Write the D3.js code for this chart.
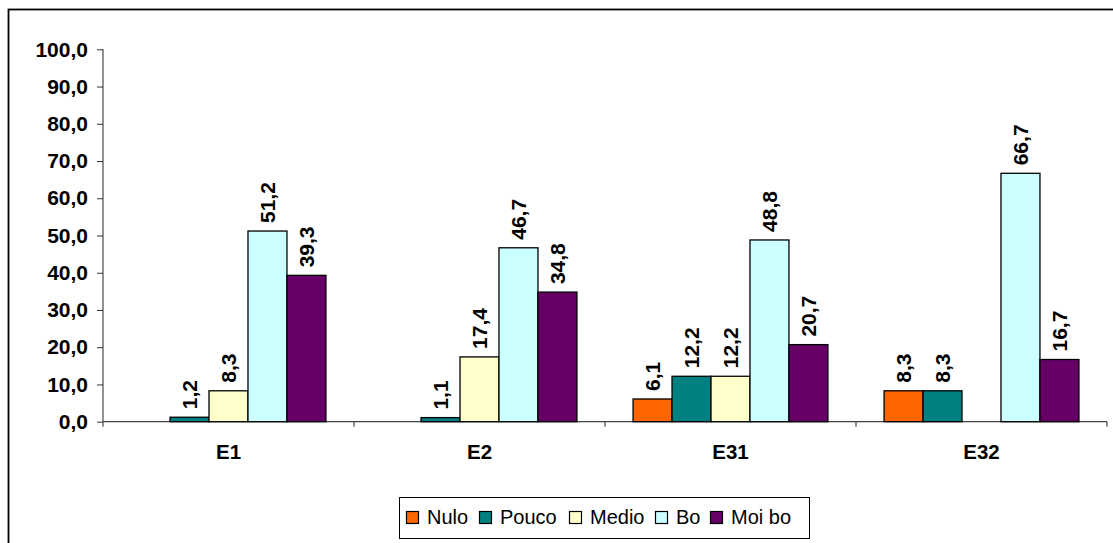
<!DOCTYPE html>
<html>
<head>
<meta charset="utf-8">
<script src="https://cdn.jsdelivr.net/npm/d3@7"></script>
<style>
  html, body { margin: 0; padding: 0; background: #fff; }
  svg { display: block; font-family: "Liberation Sans", Arial, sans-serif; }
</style>
</head>
<body>
<svg id="chart" width="1113" height="543"></svg>
<script>
const categories = ["E1", "E2", "E31", "E32"];
const seriesNames = ["Nulo", "Pouco", "Medio", "Bo", "Moi bo"];
const seriesColors = ["#FF6600", "#008080", "#FFFFCC", "#CCFFFF", "#660066"];
const nulo  = [null, null, 6.1, 8.3];
const pouco = [1.2, 1.1, 12.2, 8.3];
const medio = [8.3, 17.4, 12.2, null];
const bo    = [51.2, 46.7, 48.8, 66.7];
const moibo = [39.3, 34.8, 20.7, 16.7];
const yTicks = [0, 10, 20, 30, 40, 50, 60, 70, 80, 90, 100];

const seriesValues = [nulo, pouco, medio, bo, moibo];
const fmt = v => v.toFixed(1).replace(".", ",");

const svg = d3.select("#chart");

// outer chart border
svg.append("rect")
  .attr("x", 8.5).attr("y", 9.5)
  .attr("width", 1200).attr("height", 700)
  .attr("fill", "none").attr("stroke", "#000").attr("stroke-width", 1.8);

const y = d3.scaleLinear().domain([0, 100]).range([421.7, 49.3]);
const x0 = d3.scaleBand().domain(categories).range([103, 1107]).paddingInner(0).paddingOuter(0);
const x1 = d3.scaleBand().domain(seriesNames).range([0, x0.bandwidth()]).paddingInner(0).paddingOuter(0.72);

// y axis
const yAxis = d3.axisLeft(y).tickValues(yTicks).tickSize(6).tickPadding(9).tickFormat(fmt);
const gy = svg.append("g").attr("transform", "translate(103,0)").call(yAxis);
gy.select(".domain").attr("stroke", "#777").attr("stroke-width", 1.6)
  .attr("d", `M0,${y(100)}V${y(0) + 5}`);
gy.selectAll(".tick line").attr("stroke", "#333");
gy.selectAll(".tick text").attr("font-size", "21px").attr("font-weight", "bold")
  .attr("fill", "#000").attr("font-family", "Liberation Sans, Arial, sans-serif");

// x axis
const gx = svg.append("g").attr("transform", `translate(0,${y(0)})`);
gx.append("line").attr("x1", 103).attr("x2", 1107).attr("y1", 0).attr("y2", 0)
  .attr("stroke", "#444").attr("stroke-width", 1.2);
const boundaries = categories.map(c => x0(c)).concat([x0(categories[categories.length - 1]) + x0.bandwidth()]);
gx.selectAll("line.ct").data(boundaries.slice(1)).enter().append("line")
  .attr("class", "ct")
  .attr("x1", d => d).attr("x2", d => d).attr("y1", 0).attr("y2", 5)
  .attr("stroke", "#444").attr("stroke-width", 1.2);
gx.selectAll("text").data(categories).enter().append("text")
  .attr("x", d => x0(d) + x0.bandwidth() / 2)
  .attr("y", 37.3)
  .attr("text-anchor", "middle")
  .attr("font-size", "20.5px").attr("font-weight", "bold")
  .text(d => d);

// bars
const barData = [];
categories.forEach((c, ci) => {
  seriesNames.forEach((s, si) => {
    const v = seriesValues[si][ci];
    if (v !== null) barData.push({ c, s, si, v });
  });
});

svg.append("g").selectAll("rect").data(barData).enter().append("rect")
  .attr("x", d => x0(d.c) + x1(d.s))
  .attr("y", d => y(d.v))
  .attr("width", x1.bandwidth())
  .attr("height", d => y(0) - y(d.v))
  .attr("fill", d => seriesColors[d.si])
  .attr("stroke", "#000").attr("stroke-width", 1.3);

// data labels
svg.append("g").selectAll("text").data(barData).enter().append("text")
  .attr("transform", d => `translate(${x0(d.c) + x1(d.s) + x1.bandwidth() / 2},${y(d.v) - 8}) rotate(-90)`)
  .attr("dy", "0.35em")
  .attr("text-anchor", "start")
  .attr("font-size", "21px").attr("font-weight", "bold")
  .text(d => fmt(d.v));

// legend
const legend = svg.append("g");
legend.append("rect").attr("x", 399.5).attr("y", 497.5).attr("width", 410).attr("height", 41)
  .attr("fill", "#fff").attr("stroke", "#000").attr("stroke-width", 1);
const legendX = [406, 479, 569, 655, 710];
seriesNames.forEach((s, i) => {
  legend.append("rect").attr("x", legendX[i] + 0.5).attr("y", 511.5).attr("width", 12).attr("height", 12)
    .attr("fill", seriesColors[i]).attr("stroke", "#000").attr("stroke-width", 1.2);
  legend.append("text").attr("x", legendX[i] + 21).attr("y", 524)
    .attr("font-size", "20px").text(s);
});
</script>
</body>
</html>
